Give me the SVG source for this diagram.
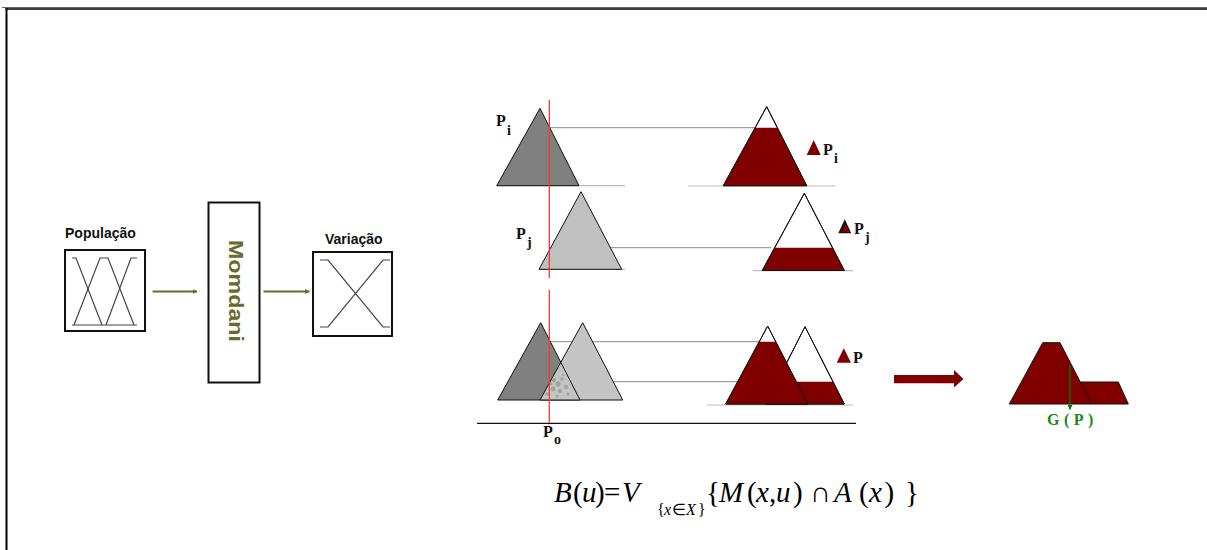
<svg xmlns="http://www.w3.org/2000/svg" width="1207" height="550" viewBox="0 0 1207 550">
<defs>
<style>
.lbl{font-family:"Liberation Sans",Arial,sans-serif;font-weight:bold;font-size:14px;fill:#111}
.mono{font-family:"Liberation Serif","Times New Roman",serif;font-weight:bold;fill:#111}
.mf{fill:none;stroke:#444;stroke-width:1.2}
.box{fill:#fff;stroke:#111;stroke-width:2}
.tri{stroke:#111;stroke-width:1}
.hl{stroke:#888;stroke-width:1}
.base{stroke:#bbb;stroke-width:1.2}
.red{fill:#800000}
.fx{font-family:"Liberation Serif","Times New Roman",serif;fill:#000}
</style>
<marker id="oliveArrow" viewBox="0 0 10 10" refX="9" refY="5" markerWidth="5" markerHeight="5" orient="auto" markerUnits="userSpaceOnUse">
<path d="M0,0 L10,5 L0,10 z" fill="#6b6a35"/>
</marker>
<marker id="greenArrow" viewBox="0 0 10 10" refX="9" refY="5" markerWidth="5" markerHeight="5" orient="auto" markerUnits="userSpaceOnUse">
<path d="M0,0 L10,5 L0,10 z" fill="#008000"/>
</marker>
</defs>
<rect x="0" y="0" width="1207" height="550" fill="#fff"/>
<!-- frame -->
<line x1="2" y1="7.5" x2="1207" y2="7.5" stroke="#666" stroke-width="1"/>
<line x1="5.5" y1="9" x2="1207" y2="9" stroke="#000" stroke-width="1.5"/>
<line x1="6.5" y1="8" x2="6.5" y2="550" stroke="#000" stroke-width="2"/>

<!-- left block -->
<g id="populacao">
<text class="lbl" x="65" y="238">População</text>
<rect class="box" x="65" y="250" width="80" height="81"/>
<path class="mf" d="M72,258 L76,258 L102,325"/>
<path class="mf" d="M74,325 L100,258 L108,258 L134,325"/>
<path class="mf" d="M106,325 L131,258 L137,258"/>
<path class="mf" d="M72,325 L137,325"/>
</g>
<g id="momdani">
<rect class="box" x="208.5" y="202.5" width="51" height="180"/>
<text transform="translate(228.5,291) rotate(90)" text-anchor="middle" font-family="'Liberation Sans',Arial,sans-serif" font-weight="bold" font-size="20" fill="#6b6a2e" textLength="102" lengthAdjust="spacingAndGlyphs">Momdani</text>
</g>
<g id="variacao">
<text class="lbl" x="325" y="244">Variação</text>
<rect class="box" x="313" y="252" width="79" height="84"/>
<path class="mf" d="M320,260 L328,260 L383,327 L390,327"/>
<path class="mf" d="M320,327 L328,327 L383,260 L390,260"/>
</g>

<g id="connectors">
<line x1="152.5" y1="291.5" x2="197" y2="291.5" stroke="#6b6a35" stroke-width="2" marker-end="url(#oliveArrow)"/>
<line x1="263.5" y1="291.5" x2="309.5" y2="291.5" stroke="#6b6a35" stroke-width="2" marker-end="url(#oliveArrow)"/>
<line class="hl" x1="549" y1="127.7" x2="756" y2="127.7"/>
<line class="hl" x1="549" y1="247.7" x2="771" y2="247.7"/>
<line class="hl" x1="549" y1="341.7" x2="760" y2="341.7"/>
<line class="hl" x1="549" y1="381.7" x2="798" y2="381.7"/>
<path d="M894,375 L954,375 L954,370 L963.5,379 L954,387.5 L954,383.3 L894,383.3 z" fill="#800000"/>
</g>

<!-- row i -->
<g id="row-i">
<line class="base" x1="497" y1="185.7" x2="625" y2="185.7"/>
<polygon class="tri" points="540,108.3 496.7,185.7 579,185.7" fill="#808080"/>
<text class="mono" x="496" y="126" font-size="16">P</text>
<text class="mono" x="507" y="135" font-size="14">i</text>
<line class="base" x1="688" y1="186" x2="835" y2="186"/>
<polygon class="tri" points="766.7,106.7 723.3,185.7 806.7,185.7" fill="#fff"/>
<polygon class="red" points="755.2,127.7 777.3,127.7 806.7,185.7 723.3,185.7"/>
<polygon class="tri" points="766.7,106.7 723.3,185.7 806.7,185.7" fill="none"/>
<polygon class="red" points="813.7,140 806.7,155 820.7,155"/>
<text class="mono" x="823" y="155" font-size="16">P</text>
<text class="mono" x="834" y="163" font-size="14">i</text>
</g>

<!-- row j -->
<g id="row-j">
<line class="base" x1="539" y1="269.3" x2="625" y2="269.3"/>
<polygon class="tri" points="581,191.7 539,269.3 621.7,269.3" fill="#c0c0c0"/>
<text class="mono" x="516" y="238.5" font-size="16">P</text>
<text class="mono" x="527" y="247" font-size="14">j</text>
<line class="base" x1="753" y1="270.7" x2="853" y2="270.7"/>
<polygon class="tri" points="804.3,193.3 762.3,270.5 844.3,270.5" fill="#fff"/>
<polygon class="red" points="774.7,247.7 832.5,247.7 844.3,270.5 762.3,270.5"/>
<polygon class="tri" points="804.3,193.3 762.3,270.5 844.3,270.5" fill="none"/>
<polygon points="844.8,219.3 838.3,233.3 851.3,233.3" fill="#111"/>
<polygon class="red" points="845.5,224 841.5,232 849.5,232"/>
<text class="mono" x="854" y="233.5" font-size="16">P</text>
<text class="mono" x="865" y="242" font-size="14">j</text>
</g>

<!-- combined row -->
<g id="row-combined">
<polygon class="tri" points="540.7,322.7 497.7,400 580,400" fill="#808080"/>
<polygon class="tri" points="582.7,322.7 540,400 622.7,400" fill="#c4c4c4"/>
<line class="tri" x1="560.8" y1="362.3" x2="580" y2="400"/>
<g fill="#9a9a9a" opacity="0.8">
<circle cx="554" cy="380" r="2.2"/><circle cx="558" cy="384" r="2.5"/><circle cx="562" cy="379" r="1.8"/>
<circle cx="553" cy="389" r="2.4"/><circle cx="560" cy="391" r="2"/><circle cx="566" cy="387" r="2.2"/>
<circle cx="547" cy="394" r="1.8"/><circle cx="557" cy="396" r="1.6"/><circle cx="568" cy="394" r="1.5"/>
<circle cx="551" cy="384" r="1.4"/><circle cx="563" cy="375" r="1.3"/>
</g>
<line x1="477" y1="423.3" x2="856" y2="423.3" stroke="#111" stroke-width="1.2"/>
<text class="mono" x="543" y="437" font-size="16">P</text>
<text class="mono" x="554" y="444" font-size="14">o</text>
<line class="base" x1="707" y1="405" x2="853" y2="405"/>
<polygon class="tri" points="805,326.7 765.7,404 844.3,404" fill="#fff"/>
<polygon class="red" points="777,381.7 833,381.7 844.3,404 765.7,404"/>
<polygon class="tri" points="805,326.7 765.7,404 844.3,404" fill="none"/>
<polygon class="tri" points="767.7,326 725.7,404 807.7,404" fill="#fff"/>
<polygon class="red" points="759.2,341.7 775.7,341.7 807.7,404 725.7,404"/>
<polygon class="tri" points="767.7,326 725.7,404 807.7,404" fill="none"/>
<polygon class="red" points="843.8,348.3 836.7,362.7 851,362.7"/>
<text class="mono" x="853" y="363" font-size="16">P</text>
</g>

<g id="cuts">
<line x1="549.3" y1="100" x2="549.3" y2="278" stroke="#ff3333" stroke-width="1.3"/>
<line x1="549.3" y1="290" x2="549.3" y2="423" stroke="#ff3333" stroke-width="1.3"/>
</g>

<g id="result">
<polygon points="1009.3,404 1042.7,342.7 1060,342.7 1080.3,382 1118.3,382 1128.3,404" fill="#800000" stroke="#111" stroke-width="1"/>
<line x1="1080.3" y1="382" x2="1091.7" y2="404" stroke="#111" stroke-width="1"/>
<line x1="1070" y1="365" x2="1070" y2="409.5" stroke="#008000" stroke-width="1.3" marker-end="url(#greenArrow)"/>
<text x="1047" y="425" font-family="'Liberation Serif','Times New Roman',serif" font-weight="bold" font-size="16" fill="#1a8a1a" letter-spacing="4.5">G(P)</text>
</g>

<g id="formula">
<text class="fx" y="501.7" style="font-size:29px"><tspan x="554" font-style="italic">B</tspan><tspan x="573">(</tspan><tspan x="582" font-style="italic">u</tspan><tspan x="595">)</tspan><tspan x="604">=</tspan><tspan x="622" font-style="italic">V</tspan><tspan x="706">{</tspan><tspan x="719" font-style="italic">M</tspan><tspan x="747">(</tspan><tspan x="756" font-style="italic">x</tspan><tspan x="769">,</tspan><tspan x="776" font-style="italic">u</tspan><tspan x="793">)</tspan><tspan x="810">∩</tspan><tspan x="834" font-style="italic">A</tspan><tspan x="859">(</tspan><tspan x="869" font-style="italic">x</tspan><tspan x="884.5">)</tspan><tspan x="905">}</tspan></text>
<text class="fx" y="515" style="font-size:16px"><tspan x="657">{</tspan><tspan x="664" font-style="italic">x</tspan><tspan x="672">∈</tspan><tspan x="686" font-style="italic">X</tspan><tspan x="698">}</tspan></text>
</g>
</svg>
